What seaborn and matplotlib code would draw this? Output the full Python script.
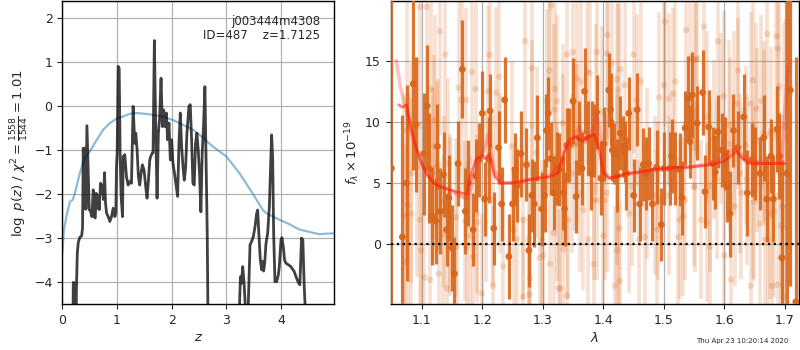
import matplotlib
matplotlib.use("Agg")
import matplotlib.pyplot as plt
import numpy as np
import pandas as pd
import seaborn as sns

sns.set_style("white")
plt.rcParams['font.family'] = ['DejaVu Sans']
plt.rcParams['mathtext.fontset'] = 'dejavusans'

# ---- redshift probability, log p(z) ----
z_grid = [0.00, 0.10, 0.19, 0.201, 0.238, 0.25, 0.274, 0.292, 0.32, 0.353, 0.37,
          0.383, 0.402, 0.420, 0.432, 0.450, 0.469, 0.493, 0.517, 0.541, 0.566, 0.584,
          0.602, 0.620, 0.639, 0.657, 0.675, 0.699, 0.718, 0.736, 0.754, 0.772, 0.790,
          0.809, 0.839, 0.870, 0.900, 0.930, 0.961, 0.979, 0.991, 1.003, 1.022, 1.040,
          1.058, 1.076, 1.101, 1.113, 1.143, 1.173, 1.204, 1.234, 1.265, 1.295, 1.325,
          1.344, 1.368, 1.392, 1.416, 1.441, 1.465, 1.495, 1.526, 1.550, 1.574, 1.599,
          1.623, 1.647, 1.660, 1.684, 1.708, 1.733, 1.757, 1.781, 1.806, 1.830, 1.854,
          1.878, 1.903, 1.927, 1.951, 1.976, 2.000, 2.024, 2.061, 2.085, 2.109, 2.134,
          2.158, 2.182, 2.207, 2.231, 2.255, 2.280, 2.316, 2.340, 2.365, 2.389, 2.413,
          2.437, 2.462, 2.486, 2.510, 2.535, 2.559, 2.583, 2.608, 2.632, 2.651, 2.663,
          2.700, 3.200, 3.240, 3.258, 3.276, 3.300, 3.325, 3.349, 3.400, 3.434, 3.465,
          3.495, 3.525, 3.556, 3.574, 3.592, 3.622, 3.647, 3.665, 3.683, 3.702, 3.726,
          3.756, 3.787, 3.829, 3.848, 3.866, 3.890, 3.921, 3.951, 3.969, 4.000, 4.018,
          4.042, 4.066, 4.091, 4.139, 4.182, 4.242, 4.285, 4.322, 4.346, 4.376, 4.400,
          4.425, 4.443, 4.500, 4.970]
log_pz = [-9.0, -7.5, -5.5, -4.02, -4.04, -4.6, -3.35, -3.11, -2.99, -2.96, -2.78,
          -0.96, -2.33, -0.96, -2.35, -0.45, -1.30, -2.36, -2.40, -2.52, -1.91, -2.52,
          -2.55, -1.99, -2.33, -2.06, -2.36, -1.76, -1.99, -1.80, -2.13, -1.52, -2.21,
          -2.44, -2.52, -2.63, -2.52, -2.33, -2.52, -2.44, -1.38, -1.08, 0.90, 0.86,
          -1.15, -2.06, -2.52, -1.15, -1.11, -1.61, -1.80, -1.72, -1.76, -0.01, -0.85,
          -0.62, -1.00, -1.61, -1.80, -1.53, -1.34, -1.46, -1.84, -2.10, -1.72, -1.23,
          -1.13, -1.07, -1.07, 1.49, -0.47, -2.10, -0.62, -0.24, 0.63, -0.47, -0.09,
          -0.47, -0.16, -0.77, -0.39, -1.23, -0.77, -1.30, -1.61, -1.84, -2.06, -0.85,
          -0.16, -0.92, -1.38, -1.69, -1.42, -0.62, -0.01, 0.03, -0.77, -1.76, -1.80,
          -0.85, -0.62, -1.00, -1.53, -2.41, -1.07, -0.47, 0.44, -1.38, -2.90, -4.6,
          -6.0, -6.0, -4.6, -3.89, -4.04, -3.66, -4.04, -4.6, -4.6, -3.16, -3.08,
          -2.97, -2.75, -2.44, -2.37, -2.83, -3.51, -3.73, -3.54, -3.76, -3.58, -3.13,
          -2.90, -2.30, -0.66, -1.20, -2.90, -4.00, -4.00, -3.85, -3.66, -3.05, -3.00,
          -3.20, -3.51, -3.58, -3.62, -3.66, -3.77, -3.92, -4.03, -4.07, -3.01, -3.05,
          -4.10, -4.60, -6.0, -8.0]

# ---- photometric prior ----
z_prior = [0.00, 0.03, 0.08, 0.14, 0.19, 0.23, 0.32, 0.41, 0.50, 0.63, 0.75, 0.87,
           0.99, 1.11, 1.23, 1.36, 1.60, 1.84, 2.02, 2.21, 2.39, 2.51, 2.75, 3.00,
           3.24, 3.48, 3.67, 3.73, 3.97, 4.15, 4.33, 4.52, 4.70, 4.82, 4.97]
log_prior = [-3.35, -2.82, -2.48, -2.18, -2.14, -1.99, -1.53, -1.19, -1.04, -0.77,
             -0.54, -0.39, -0.29, -0.24, -0.18, -0.16, -0.19, -0.24, -0.32, -0.43,
             -0.54, -0.66, -0.92, -1.15, -1.53, -1.99, -2.37, -2.44, -2.59, -2.69,
             -2.81, -2.87, -2.92, -2.91, -2.90]

# ---- spectrum, beam A ----
wave_a = [1.050, 1.068, 1.075, 1.086, 1.090, 1.103, 1.109, 1.112, 1.117, 1.123, 1.126,
          1.131, 1.136, 1.141, 1.145, 1.150, 1.154, 1.160, 1.167, 1.172, 1.177, 1.185,
          1.189, 1.195, 1.200, 1.204, 1.211, 1.213, 1.219, 1.227, 1.232, 1.237, 1.244,
          1.250, 1.254, 1.258, 1.264, 1.273, 1.277, 1.282, 1.286, 1.291, 1.298, 1.303,
          1.306, 1.309, 1.313, 1.318, 1.323, 1.327, 1.334, 1.336, 1.340, 1.344, 1.350,
          1.355, 1.360, 1.365, 1.369, 1.374, 1.379, 1.382, 1.384, 1.389, 1.396, 1.401,
          1.409, 1.412, 1.415, 1.418, 1.423, 1.428, 1.433, 1.435, 1.438, 1.442, 1.450,
          1.456, 1.460, 1.466, 1.470, 1.475, 1.481, 1.488, 1.496, 1.500, 1.510, 1.513,
          1.519, 1.526, 1.530, 1.535, 1.540, 1.543, 1.547, 1.555, 1.564, 1.568, 1.574,
          1.581, 1.585, 1.589, 1.596, 1.601, 1.605, 1.609, 1.615, 1.622, 1.632, 1.638,
          1.645, 1.651, 1.659, 1.665, 1.670, 1.677, 1.681, 1.687, 1.691, 1.695, 1.703,
          1.709, 1.718]
flux_a = [6.2, 0.6, 5.0, 13.1, 9.8, 7.4, 11.3, 6.2, 2.3, 1.9, 8.0,
          2.7, 5.7, 1.2, 3.8, -0.3, -2.4, 6.6, 14.3, 2.7, 5.0, 1.2,
          5.6, 6.9, 10.7, 3.7, 6.9, 10.9, 1.3, 7.9, 3.3, 11.8, -1.0,
          3.3, 6.1, 4.8, 7.4, 6.5, -0.5, 4.0, 3.3, 8.7, 2.9, 4.0,
          9.3, 10.7, 7.0, 4.2, 6.2, 6.1, 4.2, 2.9, 8.1, 8.1, 11.7,
          3.9, 8.7, 6.2, 12.5, 8.7, 5.8, 8.7, 8.5, 10.8, 5.4, 8.2,
          12.6, 11.0, 7.7, 7.4, 5.6, 9.1, 8.0, 7.6, 5.8, 10.7, 4.0,
          11.0, 3.3, 6.5, 5.8, 6.6, 3.3, 6.3, 1.6, 6.2, 6.2, 7.2,
          6.2, 6.1, 3.8, 9.5, 11.9, 8.4, 12.2, 9.9, 12.4, 4.3, 9.6,
          6.6, 5.9, 9.2, 7.7, 7.4, 4.8, 2.5, 9.3, 7.9, 10.4, 4.2,
          6.9, 6.6, 5.8, 8.7, 3.7, 7.2, 3.7, 9.4, 7.2, -1.1, 5.8,
          12.6, -4.7]
err_a = [14.0, 10.0, 8.0, 7.0, 5.5, 5.0, 5.0, 4.5, 4.0, 3.5, 3.5,
         3.5, 3.5, 3.0, 3.5, 3.5, 3.0, 3.5, 4.0, 3.5, 3.5, 3.0,
         3.0, 3.0, 3.5, 3.0, 3.5, 3.0, 3.0, 3.0, 3.0, 3.5, 3.5,
         3.0, 3.0, 3.0, 3.5, 3.0, 3.0, 3.0, 3.5, 3.5, 3.0, 3.0,
         3.0, 3.0, 3.0, 3.0, 3.0, 3.0, 3.0, 3.0, 3.0, 3.0, 3.5,
         3.0, 3.0, 3.0, 3.5, 3.0, 3.0, 3.0, 3.0, 3.0, 3.0, 3.0,
         3.0, 3.0, 2.5, 2.5, 3.0, 3.0, 2.5, 2.5, 3.0, 3.0, 3.0,
         3.0, 3.0, 3.0, 3.0, 3.0, 3.0, 3.0, 3.0, 3.0, 3.0, 3.0,
         3.0, 3.0, 3.0, 3.0, 3.5, 3.0, 3.5, 3.0, 3.5, 3.0, 3.0,
         3.0, 3.0, 3.0, 3.0, 3.0, 3.0, 3.5, 3.0, 3.0, 3.5, 3.5,
         3.0, 3.0, 3.0, 3.5, 3.5, 3.0, 3.5, 3.5, 3.5, 8.0, 16.0,
         16.0, 20.0]

# ---- spectrum, beam B ----
wave_b = [1.097, 1.108, 1.130, 1.139, 1.122, 1.161, 1.166, 1.173, 1.183, 1.189, 1.209,
          1.212, 1.223, 1.228, 1.271, 1.282, 1.314, 1.323, 1.340, 1.350, 1.356, 1.373,
          1.389, 1.407, 1.414, 1.422, 1.428, 1.435, 1.450, 1.455, 1.462, 1.502, 1.508,
          1.519, 1.537, 1.549, 1.555, 1.566, 1.589, 1.599, 1.623, 1.644, 1.647, 1.671,
          1.686, 1.688, 1.691, 1.703,
          1.075, 1.092, 1.083, 1.071, 1.097, 1.125, 1.147, 1.172, 1.191, 1.207, 1.252,
          1.257, 1.277, 1.282, 1.290, 1.307, 1.323, 1.334, 1.342, 1.353, 1.367, 1.384,
          1.384, 1.400, 1.422, 1.443, 1.447, 1.469, 1.472, 1.486, 1.491, 1.524, 1.532,
          1.551, 1.571, 1.577, 1.588, 1.600, 1.610, 1.616, 1.617, 1.628, 1.637, 1.648,
          1.654, 1.659, 1.665, 1.667, 1.676, 1.695, 1.698,
          1.099, 1.104, 1.114, 1.128, 1.141, 1.158, 1.174, 1.185, 1.199, 1.218, 1.235,
          1.267, 1.278, 1.279, 1.301, 1.312, 1.329, 1.419, 1.427, 1.644, 1.679, 1.688,
          1.115, 1.121, 1.127, 1.119, 1.083, 1.072, 1.135, 1.146, 1.157, 1.179, 1.192,
          1.143, 1.136, 1.077,
          1.311, 1.320, 1.363, 1.378, 1.319, 1.333, 1.357, 1.375, 1.218, 1.229, 1.249,
          1.268, 1.298, 1.318, 1.334, 1.295, 1.340, 1.326, 1.348, 1.362,
          1.406, 1.424, 1.500, 1.515, 1.492, 1.544, 1.388, 1.398, 1.390, 1.402, 1.406,
          1.426, 1.508, 1.526, 1.535, 1.423, 1.459, 1.489,
          1.553, 1.622, 1.653, 1.661, 1.571, 1.583, 1.594, 1.608, 1.626, 1.635, 1.666,
          1.677, 1.550, 1.561, 1.576, 1.649, 1.672, 1.682, 1.694, 1.611, 1.698]
flux_b = [19.4, 19.4, 17.4, 15.5, 10.2, 12.8, 11.8, 11.8, 14.1, 12.7, 12.5,
          15.5, 12.4, 13.7, 16.6, 14.4, 19.5, 11.7, 15.5, 15.7, 13.6, 14.1,
          15.7, 17.1, 14.8, 13.5, 14.3, 13.0, 15.5, 11.8, 13.3, 18.2, 11.9,
          13.3, 17.5, 15.1, 15.2, 17.8, 16.6, 12.1, 14.2, 11.5, 13.4, 17.2,
          17.0, 16.0, 12.9, 18.2,
          9.3, 6.3, 2.5, 2.3, 2.0, 6.3, 2.5, 1.9, 2.5, 3.9, 1.2,
          0.4, 0.4, 9.7, 7.5, 11.7, 3.5, 6.9, 2.0, 8.2, 2.8, 3.6,
          -1.6, 0.7, 5.3, 2.5, 4.7, 0.6, 5.8, 4.0, 3.6, 0.6, 2.3,
          4.7, 1.8, 4.7, 5.3, -0.9, 8.2, 9.9, 3.1, 4.2, 5.3, 4.2,
          8.5, 1.7, 9.1, 0.4, 2.5, 3.1, 9.6,
          -0.5, -2.7, -2.9, -2.4, -3.6, -0.2, -0.2, -1.0, -4.0, -3.4, -1.8,
          -4.3, -4.1, -2.8, -0.9, -1.6, -3.6, -3.4, -3.0, -3.4, -3.4, -3.3,
          12.7, 8.0, 6.5, 5.8, 5.8, -1.4, 0.8, 2.3, 2.2, 0.7, 1.8,
          6.6, 3.5, 3.2,
          14.2, 12.7, 13.3, 14.0, 11.0, 9.9, 8.2, 0.4, 3.6, 5.8, 8.0,
          2.0, 0.4, 0.9, -0.4, -1.1, -4.2, -3.6, 5.8, 4.2,
          15.6, 12.6, 13.0, 12.3, 12.0, 15.2, 11.0, 10.8, 3.6, 3.6, 4.2,
          1.3, 4.0, 2.0, 3.6, -0.5, 0.4, 1.2,
          15.1, 11.5, 11.1, 11.7, 10.4, 8.6, 10.3, 9.7, 5.8, 8.1, 8.9,
          9.1, 4.7, 2.0, -0.2, 3.5, 0.4, 2.7, 1.5, -2.9, -4.3]
err_b = [10.0, 9.5, 8.5, 8.0, 8.5, 7.5, 8.0, 7.5, 7.5, 7.0, 7.0,
         7.5, 7.0, 7.5, 8.0, 7.5, 8.5, 7.0, 7.5, 8.0, 7.5, 7.5,
         8.0, 8.5, 7.5, 7.0, 7.5, 7.0, 8.0, 7.0, 7.5, 8.5, 7.0,
         7.5, 8.5, 7.5, 8.0, 8.5, 8.0, 7.0, 7.5, 7.5, 7.5, 8.5,
         8.5, 8.0, 7.5, 10.0,
         11.0, 9.0, 9.5, 10.0, 8.0, 7.0, 6.5, 6.5, 6.5, 7.0, 6.5,
         6.5, 6.5, 7.0, 7.0, 7.5, 6.5, 7.0, 6.5, 7.0, 6.5, 6.5,
         6.5, 6.5, 7.0, 6.5, 6.5, 6.5, 7.0, 6.5, 6.5, 6.5, 6.5,
         7.0, 6.5, 7.0, 6.5, 6.5, 7.0, 7.5, 6.5, 7.0, 7.0, 7.0,
         7.5, 7.0, 7.5, 7.0, 7.0, 7.5, 8.5,
         8.0, 7.5, 7.0, 7.0, 6.5, 7.0, 7.0, 6.5, 6.5, 6.5, 6.5,
         6.5, 6.5, 7.0, 7.0, 7.0, 6.5, 6.5, 6.5, 7.0, 7.0, 7.5,
         8.0, 7.5, 7.0, 7.0, 9.0, 9.5, 6.5, 6.5, 6.5, 6.5, 6.5,
         7.0, 7.0, 9.0,
         7.5, 7.0, 7.0, 7.5, 7.0, 6.5, 6.5, 6.5, 7.0, 6.5, 7.0,
         6.5, 6.5, 6.5, 6.5, 6.5, 6.5, 6.5, 6.5, 6.5,
         7.5, 7.0, 7.0, 7.0, 7.0, 7.5, 7.0, 7.0, 6.5, 6.5, 6.5,
         6.5, 6.5, 6.5, 6.5, 6.5, 6.5, 6.5,
         7.5, 7.0, 7.0, 7.0, 7.0, 6.5, 7.0, 7.0, 6.5, 6.5, 7.0,
         7.0, 6.5, 6.5, 6.5, 6.5, 6.5, 7.0, 7.0, 7.0, 7.5]

# ---- best-fit models ----
model_wave_a = [1.062, 1.068, 1.075, 1.082, 1.090, 1.100, 1.110, 1.120, 1.135, 1.150,
                1.165, 1.175, 1.180, 1.190, 1.200, 1.205, 1.212, 1.220, 1.230, 1.250,
                1.270, 1.290, 1.310, 1.325, 1.335, 1.345, 1.355, 1.365, 1.375, 1.385,
                1.392, 1.400, 1.410, 1.420, 1.440, 1.460, 1.480, 1.500, 1.520, 1.540,
                1.560, 1.580, 1.600, 1.610, 1.620, 1.630, 1.640, 1.660, 1.680, 1.700]
model_flux_a = [11.4, 11.2, 11.4, 9.6, 8.0, 6.6, 5.6, 5.0, 4.6, 4.4,
                4.2, 4.1, 5.5, 7.0, 7.2, 7.0, 7.4, 5.6, 5.0, 5.0,
                5.2, 5.4, 5.5, 5.8, 7.5, 8.6, 8.8, 8.4, 8.8, 9.0,
                8.0, 5.8, 5.4, 5.5, 5.8, 5.9, 6.1, 6.2, 6.3, 6.3,
                6.4, 6.5, 6.8, 7.2, 7.6, 7.0, 6.6, 6.6, 6.6, 6.6]
model_wave_b = [1.058, 1.065, 1.075, 1.085, 1.095, 1.105, 1.120, 1.140, 1.160, 1.175,
                1.180, 1.190, 1.200, 1.205, 1.210, 1.220, 1.235, 1.260, 1.290, 1.310,
                1.330, 1.340, 1.350, 1.360, 1.370, 1.380, 1.390, 1.395, 1.400, 1.410,
                1.430, 1.460, 1.500, 1.540, 1.580, 1.600, 1.615, 1.625, 1.640, 1.660,
                1.680, 1.695, 1.700, 1.705]
model_flux_b = [15.0, 12.8, 10.8, 8.8, 7.2, 6.0, 5.0, 4.6, 4.0, 3.7,
                4.3, 6.5, 7.5, 8.0, 9.0, 6.0, 5.0, 5.1, 5.4, 5.6,
                6.5, 8.0, 8.5, 9.6, 8.3, 9.0, 10.5, 9.0, 6.0, 5.4,
                5.6, 5.9, 6.1, 6.3, 6.6, 7.2, 7.8, 7.5, 6.8, 6.7,
                6.6, 6.8, 11.0, 14.5]

z_ticks = [0, 1, 2, 3, 4]
pz_ticks = [-4, -3, -2, -1, 0, 1, 2]
wave_ticks = [1.1, 1.2, 1.3, 1.4, 1.5, 1.6, 1.7]
flux_ticks = [0, 5, 10, 15]

obj_name = "j003444m4308"
obj_id = 487
z_best = 1.7125
chi2_num, chi2_den = 1558, 1544

orange = '#d9661a'
fs_tick = 9
fs_lab = 9.5

fig = plt.figure(figsize=(8, 3.5), dpi=100)
ax1 = fig.add_axes([0.0779, 0.1314, 0.3396, 0.8657])
ax2 = fig.add_axes([0.4884, 0.1314, 0.5106, 0.8657])

# --- left: p(z) ---
pz_df = pd.DataFrame({'z': z_grid, 'logp': log_pz})
prior_df = pd.DataFrame({'z': z_prior, 'logp': log_prior})
sns.lineplot(data=prior_df, x='z', y='logp', ax=ax1, color='#1f77b4', alpha=0.5,
             lw=1.6, sort=False, estimator=None)
sns.lineplot(data=pz_df, x='z', y='logp', ax=ax1, color='k', alpha=0.75,
             lw=2.0, sort=False, estimator=None)
ax1.set_xlim(0, 4.97)
ax1.set_ylim(max(log_pz) - 6, max(log_pz) + 0.9)
ax1.set_xticks(z_ticks)
ax1.set_yticks(pz_ticks)
ax1.grid(True, color='#b0b0b0', lw=0.9)
ax1.set_axisbelow(True)
ax1.tick_params(labelsize=fs_tick, direction='out', length=3.5, width=0.8,
                left=True, bottom=True)
ax1.set_xlabel(r'$z$', fontsize=fs_lab, labelpad=3)
ax1.set_ylabel(r'$\log\ p(z)$ / $\chi^2=\frac{%d}{%d}=%.2f$'
               % (chi2_num, chi2_den, chi2_num / chi2_den), fontsize=fs_lab, labelpad=2)
ax1.text(0.95, 0.955, obj_name + '\n' + 'ID=%d    z=%.4f' % (obj_id, z_best),
         transform=ax1.transAxes, ha='right', va='top', fontsize=8.5, linespacing=1.1)

# --- right: spectrum ---
ax2.errorbar(wave_b, flux_b, yerr=err_b, fmt='none', ecolor=orange, alpha=0.2,
             elinewidth=2.6, zorder=1)
sns.scatterplot(x=wave_b, y=flux_b, ax=ax2, color=orange, alpha=0.22, s=22,
                edgecolor='none', zorder=2)
ax2.errorbar(wave_a, flux_a, yerr=err_a, fmt='none', ecolor=orange, alpha=0.9,
             elinewidth=2.3, zorder=3)
sns.scatterplot(x=wave_a, y=flux_a, ax=ax2, color=orange, alpha=0.95, s=24,
                edgecolor='none', zorder=4)
sns.lineplot(x=model_wave_b, y=model_flux_b, ax=ax2, color='#ff3030', alpha=0.3,
             lw=2.6, sort=False, estimator=None, zorder=5)
sns.lineplot(x=model_wave_a, y=model_flux_a, ax=ax2, color='#ff1a00', alpha=0.55,
             lw=2.0, sort=False, estimator=None, zorder=6)
ax2.axhline(0, color='k', ls=':', lw=1.6, zorder=7)
ax2.set_xlim(1.0488, 1.7236)
ax2.set_ylim(-4.88, 19.88)
ax2.set_xticks(wave_ticks)
ax2.set_xticklabels(['%.1f' % w for w in wave_ticks])
ax2.set_yticks(flux_ticks)
ax2.grid(True, color='#b0b0b0', lw=0.9)
ax2.set_axisbelow(True)
ax2.tick_params(labelsize=fs_tick, direction='out', length=3.5, width=0.8,
                left=True, bottom=True)
ax2.set_xlabel(r'$\lambda$', fontsize=fs_lab, labelpad=3)
ax2.set_ylabel(r'$f_\lambda\times10^{-19}$', fontsize=fs_lab, labelpad=2)

for ax in (ax1, ax2):
    for s in ax.spines.values():
        s.set_color('k')
        s.set_linewidth(1.0)

fig.text(0.985, 0.026, 'Thu Apr 23 10:20:14 2020', ha='right', va='center', fontsize=5)

fig.savefig('out.png', dpi=100)
